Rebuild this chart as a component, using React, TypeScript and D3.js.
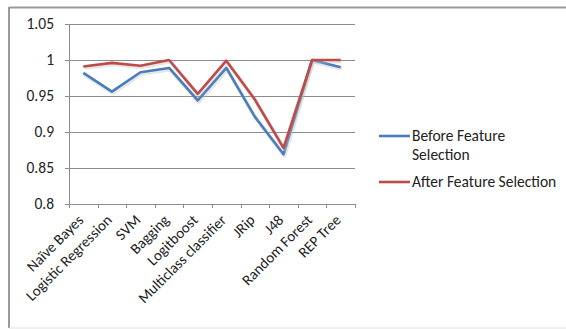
import React from "react";
import * as d3 from "d3";

const categories = ["Naïve Bayes", "Logistic Regression", "SVM", "Bagging", "Logitboost", "Multiclass classifier", "JRip", "J48", "Random Forest", "REP Tree"];
const beforeValues = [0.982, 0.956, 0.983, 0.989, 0.944, 0.989, 0.921, 0.869, 1.0, 0.99];
const afterValues = [0.991, 0.996, 0.992, 1.0, 0.953, 0.999, 0.945, 0.878, 1.0, 1.0];
const yTicks = [0.8, 0.85, 0.9, 0.95, 1, 1.05];
const seriesNames = ["Before Feature Selection", "After Feature Selection"];

export default function App() {
  const W = 566, H = 329;
  const left = 69, right = 355, top = 24, bottom = 204;
  const x = d3.scaleBand<string>().domain(categories).range([left, right]);
  const y = d3.scaleLinear().domain([0.8, 1.05]).range([bottom, top]);
  const line = d3.line<number>()
    .x((_, i) => (x(categories[i]) as number) + x.bandwidth() / 2)
    .y((d) => y(d));
  const font = "Carlito, 'Open Sans', 'Liberation Sans', sans-serif";
  const series = [
    { name: seriesNames[0], values: beforeValues, color: "#4a7ebb" },
    { name: seriesNames[1], values: afterValues, color: "#be4b48" },
  ];
  return (
    <svg width={W} height={H} style={{ position: "absolute", left: 0, top: 0 }} fontFamily={font}>
      <rect x={0} y={0} width={W} height={H} fill="#fff" />
      <line x1={9} x2={W} y1={7.5} y2={7.5} stroke="#9a9a9a" strokeWidth={2} />
      <line x1={9} x2={9} y1={7} y2={328} stroke="#9a9a9a" strokeWidth={2} />
      <line x1={9} x2={W} y1={328} y2={328} stroke="#e0e0e0" strokeWidth={1} />
      {yTicks.map((t) => (
        <g key={t}>
          <line x1={left - 4} x2={right} y1={Math.round(y(t)) + 0.5} y2={Math.round(y(t)) + 0.5} stroke="#8c8c8c" strokeWidth={1} />
          <text x={54} y={y(t)} dy="0.35em" textAnchor="end" fontSize={15.5} fill="#222">{String(t)}</text>
        </g>
      ))}
      <line x1={left + 0.5} x2={left + 0.5} y1={top} y2={bottom + 4} stroke="#8c8c8c" />
      {categories.map((c, i) => {
        const xx = (x(c) as number) + x.bandwidth();
        return <line key={"t" + i} x1={Math.round(xx) + 0.5} x2={Math.round(xx) + 0.5} y1={bottom} y2={bottom + 4} stroke="#8c8c8c" />;
      })}
      {categories.map((c, i) => {
        const cx = (x(c) as number) + x.bandwidth() / 2 + 1;
        const cy = bottom + 17;
        return (
          <text key={"l" + i} x={cx} y={cy} transform={`rotate(-45 ${cx} ${cy})`} textAnchor="end" fontSize={15} fill="#222">{c}</text>
        );
      })}
      {series.map((s) => (
        <g key={s.name}>
          <path d={line(s.values) || ""} fill="none" stroke="#bbb" strokeOpacity={0.35} strokeWidth={4} transform="translate(1,1.5)" strokeLinejoin="round" />
          <path d={line(s.values) || ""} fill="none" stroke={s.color} strokeWidth={2.6} strokeLinejoin="round" />
        </g>
      ))}
      <line x1={379} x2={410} y1={136} y2={136} stroke={series[0].color} strokeWidth={2.6} />
      <text x={412} y={136} dy="0.35em" fontSize={15.5} fill="#222">Before Feature</text>
      <text x={412} y={155} dy="0.35em" fontSize={15.5} fill="#222">Selection</text>
      <line x1={379} x2={410} y1={182} y2={182} stroke={series[1].color} strokeWidth={2.6} />
      <text x={412} y={182} dy="0.35em" fontSize={15.5} fill="#222">{seriesNames[1]}</text>
    </svg>
  );
}
